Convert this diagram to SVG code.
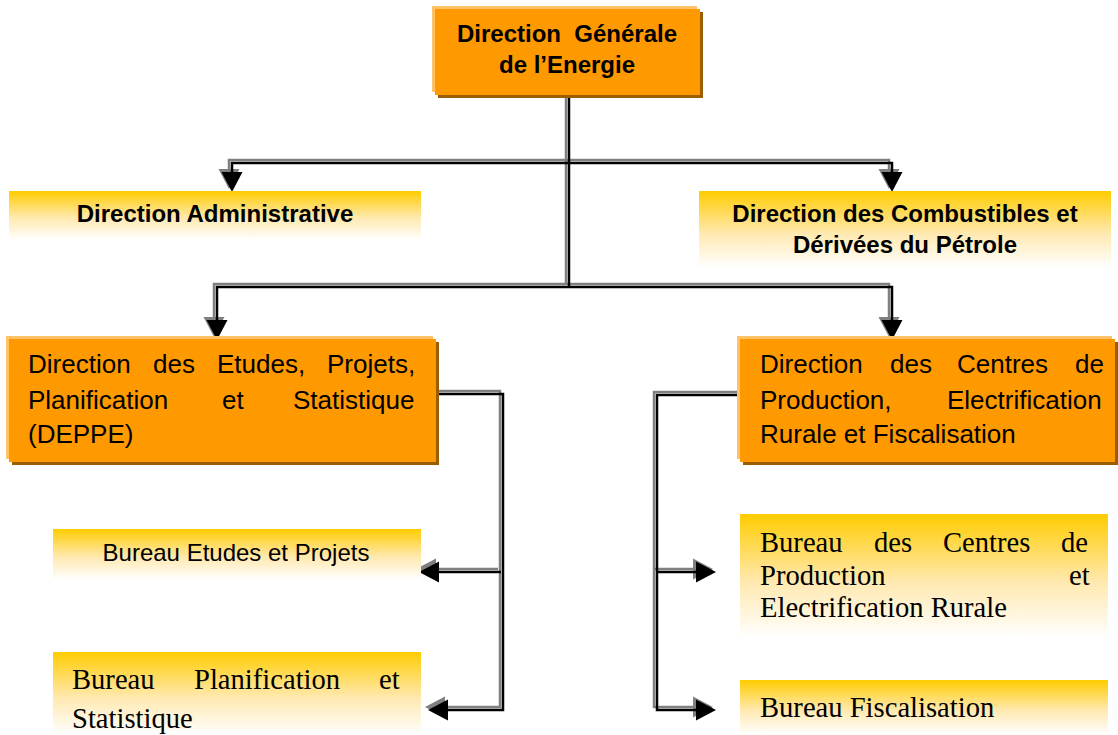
<svg xmlns="http://www.w3.org/2000/svg" width="1118" height="735" viewBox="0 0 1118 735">
<style>
.lt{fill:#FFC266}
.sh{fill:#9A5E00}
.or{fill:#FF9900}
.gr{fill:url(#yg)}
.b{font-family:"Liberation Sans",Arial,sans-serif;font-weight:bold;font-size:24px;fill:#000}
.s{font-family:"Liberation Sans",Arial,sans-serif;font-size:26px;fill:#000}
.s24{font-family:"Liberation Sans",Arial,sans-serif;font-size:24px;fill:#000}
.t{font-family:"Liberation Serif","Times New Roman",serif;font-size:28.6px;fill:#000}
.cg{fill:none;stroke:#808080;stroke-width:2.5;marker-end:url(#ahg)}
.cb{fill:none;stroke:#000;stroke-width:2.5;marker-end:url(#ah)}
.cgn{fill:none;stroke:#808080;stroke-width:2.5}
.cbn{fill:none;stroke:#000;stroke-width:2.5}
</style>
<defs>
<linearGradient id="yg" x1="0" y1="0" x2="0" y2="1">
<stop offset="0" stop-color="#FFCC00"/>
<stop offset="0.55" stop-color="#FFE9B0"/>
<stop offset="1" stop-color="#FFFFFF"/>
</linearGradient>
<marker id="ah" markerUnits="userSpaceOnUse" viewBox="0 -11 22 22" markerWidth="22" markerHeight="22" refX="0" refY="0" orient="auto">
<path d="M0,-10.5 L20,0 L0,10.5 z" fill="#000"/>
</marker>
<marker id="ahg" markerUnits="userSpaceOnUse" viewBox="0 -11 22 22" markerWidth="22" markerHeight="22" refX="0" refY="0" orient="auto">
<path d="M0,-10.5 L20,0 L0,10.5 z" fill="#808080"/>
</marker>
</defs>
<rect width="1118" height="735" fill="#fff"/>

<g id="connectors">
<g transform="translate(-3,-3)">
<path class="cgn" d="M569,95 V287"/>
<path class="cg" d="M569,163 H232 V172"/>
<path class="cg" d="M569,163 H892 V172"/>
<path class="cg" d="M569,287 H217 V320"/>
<path class="cg" d="M569,287 H892 V320"/>
<path class="cg" d="M436,394 H503 V710 H448"/>
<path class="cg" d="M501,572 H439"/>
<path class="cg" d="M740,395 H657 V710 H696"/>
<path class="cg" d="M657,572 H696"/>
</g>
<path class="cbn" d="M569,95 V287"/>
<path class="cb" d="M569,163 H232 V172"/>
<path class="cb" d="M569,163 H892 V172"/>
<path class="cb" d="M569,287 H217 V320"/>
<path class="cb" d="M569,287 H892 V320"/>
<path class="cb" d="M436,394 H503 V710 H448"/>
<path class="cb" d="M501,572 H439"/>
<path class="cb" d="M740,395 H657 V710 H696"/>
<path class="cb" d="M657,572 H696"/>
</g>

<g id="dge">
<rect class="sh" x="438" y="12" width="265" height="86"/>
<rect class="lt" x="432" y="6" width="265" height="86"/>
<rect class="or" x="435" y="9" width="265" height="86"/>
<text class="b" x="567" y="42" text-anchor="middle" xml:space="preserve">Direction  Générale</text>
<text class="b" x="567" y="73" text-anchor="middle">de l’Energie</text>
</g>

<g id="dir-admin">
<rect class="gr" x="9" y="191" width="412" height="49"/>
<text class="b" x="215" y="222" text-anchor="middle">Direction Administrative</text>
</g>

<g id="dir-combustibles">
<rect class="gr" x="699" y="191" width="412" height="77"/>
<text class="b" x="905" y="222" text-anchor="middle">Direction des Combustibles et</text>
<text class="b" x="905" y="253" text-anchor="middle">Dérivées du Pétrole</text>
</g>

<g id="deppe">
<rect class="sh" x="12" y="342" width="427" height="123"/>
<rect class="lt" x="6" y="336" width="427" height="123"/>
<rect class="or" x="9" y="339" width="427" height="123"/>
<text class="s" y="373"><tspan x="28">Direction</tspan><tspan x="153">des</tspan><tspan x="217">Etudes,</tspan><tspan x="327">Projets,</tspan></text>
<text class="s" y="409"><tspan x="28">Planification</tspan><tspan x="222">et</tspan><tspan x="293">Statistique</tspan></text>
<text class="s" x="28" y="443">(DEPPE)</text>
</g>

<g id="dcpef">
<rect class="sh" x="743" y="342" width="375" height="123"/>
<rect class="lt" x="737" y="336" width="375" height="123"/>
<rect class="or" x="740" y="339" width="375" height="123"/>
<text class="s" y="373"><tspan x="760">Direction</tspan><tspan x="890">des</tspan><tspan x="957">Centres</tspan><tspan x="1075">de</tspan></text>
<text class="s" y="409"><tspan x="760">Production,</tspan><tspan x="947">Electrification</tspan></text>
<text class="s" x="760" y="443">Rurale et Fiscalisation</text>
</g>

<g id="bureau-etudes">
<rect class="gr" x="53" y="529" width="368" height="51"/>
<text class="s24" x="236" y="561" text-anchor="middle">Bureau Etudes et Projets</text>
</g>

<g id="bureau-planif">
<rect class="gr" x="53" y="652" width="368" height="83"/>
<text class="t" y="689"><tspan x="72">Bureau</tspan><tspan x="194">Planification</tspan><tspan x="379">et</tspan></text>
<text class="t" x="72" y="728">Statistique</text>
</g>

<g id="bureau-centres">
<rect class="gr" x="740" y="514" width="368" height="124"/>
<text class="t" y="552"><tspan x="760">Bureau</tspan><tspan x="874">des</tspan><tspan x="943">Centres</tspan><tspan x="1061">de</tspan></text>
<text class="t" y="585"><tspan x="760">Production</tspan><tspan x="1069">et</tspan></text>
<text class="t" x="760" y="617">Electrification Rurale</text>
</g>

<g id="bureau-fiscal">
<rect class="gr" x="740" y="680" width="368" height="55"/>
<text class="t" x="760" y="717">Bureau Fiscalisation</text>
</g>
</svg>
